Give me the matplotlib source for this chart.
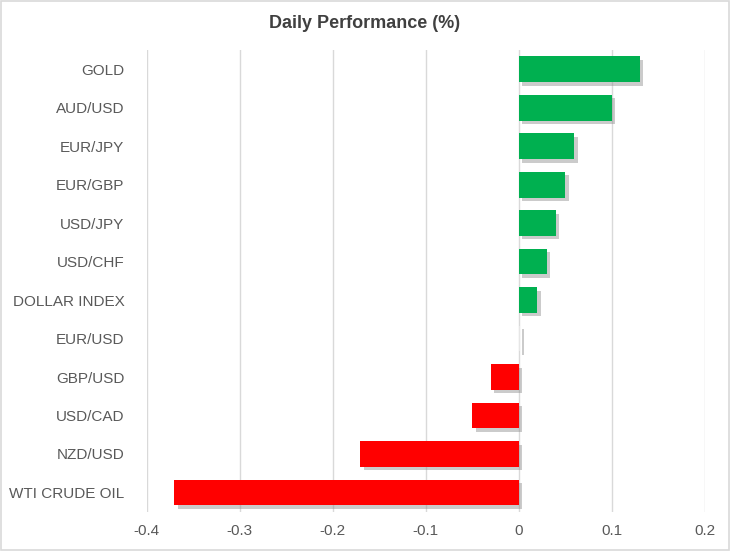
import matplotlib.pyplot as plt
import matplotlib.patheffects as pe
from matplotlib.patches import Rectangle

# Daily performance by asset, top to bottom
ativos = ["GOLD", "AUD/USD", "EUR/JPY", "EUR/GBP", "USD/JPY", "USD/CHF",
          "DOLLAR INDEX", "EUR/USD", "GBP/USD", "USD/CAD", "NZD/USD", "WTI CRUDE OIL"]
variacao = [0.13, 0.10, 0.06, 0.05, 0.04, 0.03, 0.02, 0.002, -0.03, -0.05, -0.17, -0.37]
ticks_x = [-0.4, -0.3, -0.2, -0.1, 0, 0.1, 0.2]
rotulos_x = ["-0.4", "-0.3", "-0.2", "-0.1", "0", "0.1", "0.2"]

plt.rcParams['font.family'] = ['Liberation Sans', 'DejaVu Sans']

fig = plt.figure(figsize=(7.3, 5.51), dpi=100)
ax = fig.add_axes([0.2007, 0.0713, 0.7646, 0.838])

cores = []
for v in variacao:
    if abs(v) < 0.005:
        cores.append('#e6e6e6')
    elif v > 0:
        cores.append('#00b050')
    else:
        cores.append('#ff0000')

pos = list(range(len(ativos)))
barras = ax.barh(pos, variacao, height=0.67, color=cores, zorder=3)
for b, v in zip(barras, variacao):
    # sombra suave como no Excel
    b.set_path_effects([pe.SimplePatchShadow(offset=(2.5, -2.5), shadow_rgbFace='#8c8c8c', alpha=0.45),
                        pe.Normal()])

ax.set_ylim(len(ativos) - 0.5, -0.5)
ax.set_xlim(-0.4, 0.2)
ax.set_xticks(ticks_x)
ax.set_xticklabels(rotulos_x)
ax.set_yticks(pos)
ax.set_yticklabels(ativos)
ax.tick_params(axis='both', length=0, labelsize=11, colors='#595959')
ax.tick_params(axis='y', pad=16)
ax.tick_params(axis='x', pad=9)
ax.grid(axis='x', color='#d9d9d9', linewidth=1, zorder=0)
for s in ax.spines.values():
    s.set_visible(False)

fig.text(0.5, 0.958, 'Daily Performance (%)', ha='center', va='center',
         fontsize=13, fontweight='bold', color='#404040')

# moldura clara em volta da figura
fig.patches.append(Rectangle((0.002, 0.002), 0.996, 0.996, transform=fig.transFigure,
                             fill=False, edgecolor='#d9d9d9', linewidth=1.2))

plt.savefig('out.png', dpi=100)
plt.close()
